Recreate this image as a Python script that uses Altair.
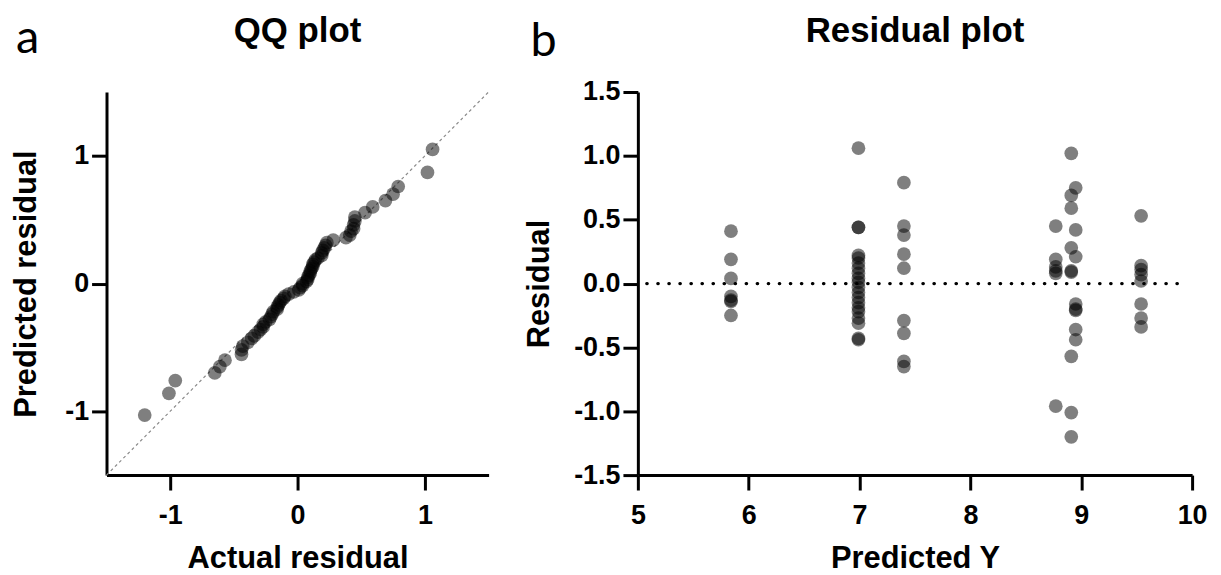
import altair as alt
import pandas as pd

# ---------------- data ----------------
# Panel b: residuals grouped by predicted Y value
group_pred = [5.84, 6.99, 7.40, 8.77, 8.91, 8.95, 9.54]
group_resid = [
    [0.41, 0.19, 0.04, -0.10, -0.13, -0.14, -0.25],
    [1.06, 0.44, 0.44, 0.22, 0.20, 0.16, 0.12, 0.08, 0.04, 0.01, -0.03, -0.07,
     -0.11, -0.15, -0.19, -0.22, -0.27, -0.31, -0.43, -0.44],
    [0.79, 0.45, 0.38, 0.23, 0.12, -0.29, -0.39, -0.61, -0.65],
    [0.45, 0.19, 0.13, 0.10, 0.08, -0.96],
    [1.02, 0.69, 0.59, 0.28, 0.10, 0.09, -0.57, -1.01, -1.20],
    [0.75, 0.42, 0.21, -0.16, -0.20, -0.21, -0.36, -0.44],
    [0.53, 0.14, 0.11, 0.07, 0.02, -0.16, -0.27, -0.34],
]

# Panel a: QQ plot (actual residual vs predicted residual)
qq_actual = [
    -1.20, -1.01, -0.96, -0.65, -0.61, -0.57, -0.44, -0.44, -0.43, -0.39,
    -0.36, -0.34, -0.31, -0.29, -0.27, -0.27, -0.25, -0.22, -0.21, -0.20,
    -0.19, -0.16, -0.16, -0.15, -0.14, -0.13, -0.11, -0.10, -0.07, -0.03,
    0.01, 0.02, 0.04, 0.04, 0.07, 0.08, 0.08, 0.09, 0.10, 0.10,
    0.11, 0.12, 0.12, 0.13, 0.14, 0.16, 0.19, 0.19, 0.20, 0.21,
    0.22, 0.23, 0.28, 0.38, 0.41, 0.42, 0.44, 0.44, 0.45, 0.45,
    0.53, 0.59, 0.69, 0.75, 0.79, 1.02, 1.06,
]
qq_predicted = [
    -1.03, -0.86, -0.76, -0.70, -0.65, -0.60, -0.555, -0.52, -0.49, -0.46,
    -0.43, -0.41, -0.38, -0.36, -0.34, -0.32, -0.30, -0.28, -0.26, -0.24,
    -0.22, -0.20, -0.185, -0.167, -0.15, -0.133, -0.116, -0.10, -0.083, -0.066,
    -0.05, -0.033, -0.017, 0.0, 0.017, 0.033, 0.05, 0.066, 0.083, 0.10,
    0.116, 0.133, 0.15, 0.167, 0.185, 0.20, 0.22, 0.24, 0.26, 0.28,
    0.30, 0.32, 0.34, 0.36, 0.38, 0.41, 0.43, 0.46, 0.49, 0.52,
    0.555, 0.60, 0.65, 0.70, 0.76, 0.87, 1.05,
]

qq_ticks = [-1, 0, 1]
resid_ticks = [-1.5, -1.0, -0.5, 0.0, 0.5, 1.0, 1.5]
pred_ticks = [5, 6, 7, 8, 9, 10]

# ---------------- tables ----------------
rows = []
for px, vals in zip(group_pred, group_resid):
    for v in vals:
        rows.append({"predicted": px, "residual": v})
resid_df = pd.DataFrame(rows)
qq_df = pd.DataFrame({"actual": qq_actual, "pred_resid": qq_predicted})
diag_df = pd.DataFrame({"actual": [-1.5, 1.5], "pred_resid": [-1.5, 1.5]})
zero_df = pd.DataFrame({"predicted": [5.08], "predicted_end": [9.91], "residual": [0.0]})

FONT = "Liberation Sans"
LETTER_FONT = "Lato"


def make_axis(**kw):
    base = dict(
        domainColor="black", domainWidth=3, tickColor="black", tickWidth=3,
        tickSize=15, labelFont=FONT, labelFontSize=27, labelFontWeight="bold",
        labelColor="black", titleFont=FONT, titleFontSize=31,
        titleFontWeight="bold", titleColor="black", grid=False,
        labelFlush=False, labelOverlap=False, labelBound=False,
    )
    base.update(kw)
    return alt.Axis(**base)


W_A, H_A = 384, 385
W_B, H_B = 557, 385

# ---------------- panel a ----------------
xa = alt.X("actual:Q", scale=alt.Scale(domain=[-1.5, 1.5], nice=False, zero=False),
           axis=make_axis(values=qq_ticks, title="Actual residual", labelPadding=13,
                          labelExpr="(datum.value < 0 ? '-' : '') + format(abs(datum.value), 'd')",
                          titleX=W_A / 2, titleY=93, titleAlign="center",
                          titleBaseline="alphabetic"))
ya = alt.Y("pred_resid:Q", scale=alt.Scale(domain=[-1.5, 1.5], nice=False, zero=False),
           axis=make_axis(values=qq_ticks, title="Predicted residual", labelPadding=3,
                          labelExpr="(datum.value < 0 ? '-' : '') + format(abs(datum.value), 'd')",
                          titleX=-80, titleY=H_A / 2, titleAngle=270, titleAlign="center",
                          titleBaseline="middle"))

diag = alt.Chart(diag_df).mark_line(color="#8a8a8a", strokeWidth=1.2, strokeDash=[3, 3]).encode(
    x=xa, y=ya)
pts_a = alt.Chart(qq_df).mark_circle(size=190, color="black", opacity=0.5).encode(x=xa, y=ya)
title_a = alt.Chart(pd.DataFrame({"t": ["QQ plot"]})).mark_text(
    font=FONT, fontSize=35, fontWeight="bold", color="black", align="center",
    baseline="alphabetic").encode(text="t:N", x=alt.value(W_A / 2), y=alt.value(-50))
letter_a = alt.Chart(pd.DataFrame({"t": ["a"]})).mark_text(
    font=LETTER_FONT, fontSize=47, color="black", align="left",
    baseline="alphabetic").encode(text="t:N", x=alt.value(-91), y=alt.value(-39))

panel_a = alt.layer(diag, pts_a, title_a, letter_a).properties(width=W_A, height=H_A)

# ---------------- panel b ----------------
xb = alt.X("predicted:Q", scale=alt.Scale(domain=[5, 10], nice=False, zero=False),
           axis=make_axis(values=pred_ticks, title="Predicted Y", labelPadding=13,
                          titleX=W_B / 2, titleY=93, titleAlign="center",
                          titleBaseline="alphabetic"))
yb = alt.Y("residual:Q", scale=alt.Scale(domain=[-1.5, 1.5], nice=False, zero=False),
           axis=make_axis(values=resid_ticks, title="Residual", labelPadding=3,
                          labelExpr="(datum.value < 0 ? '-' : '') + format(abs(datum.value), '.1f')",
                          titleX=-99, titleY=H_B / 2, titleAngle=270, titleAlign="center",
                          titleBaseline="middle"))

zero_line = alt.Chart(zero_df).mark_rule(color="black", strokeWidth=3.2, strokeCap="round",
                                         strokeDash=[0.5, 10.6]).encode(
    x=xb, x2="predicted_end:Q", y=yb)
pts_b = alt.Chart(resid_df).mark_circle(size=190, color="black", opacity=0.5).encode(x=xb, y=yb)
title_b = alt.Chart(pd.DataFrame({"t": ["Residual plot"]})).mark_text(
    font=FONT, fontSize=35, fontWeight="bold", color="black", align="center",
    baseline="alphabetic").encode(text="t:N", x=alt.value(W_B / 2), y=alt.value(-50))
letter_b = alt.Chart(pd.DataFrame({"t": ["b"]})).mark_text(
    font=LETTER_FONT, fontSize=47, color="black", align="left",
    baseline="alphabetic").encode(text="t:N", x=alt.value(-108), y=alt.value(-36))

panel_b = alt.layer(zero_line, pts_b, title_b, letter_b).properties(width=W_B, height=H_B)

chart = alt.hconcat(panel_a, panel_b, spacing=32).properties(
    padding={"left": 3, "top": 5, "right": 5, "bottom": 5}
).configure(background="white").configure_view(stroke=None)

chart.save("out.html", embed_options={"renderer": "svg", "actions": False})
